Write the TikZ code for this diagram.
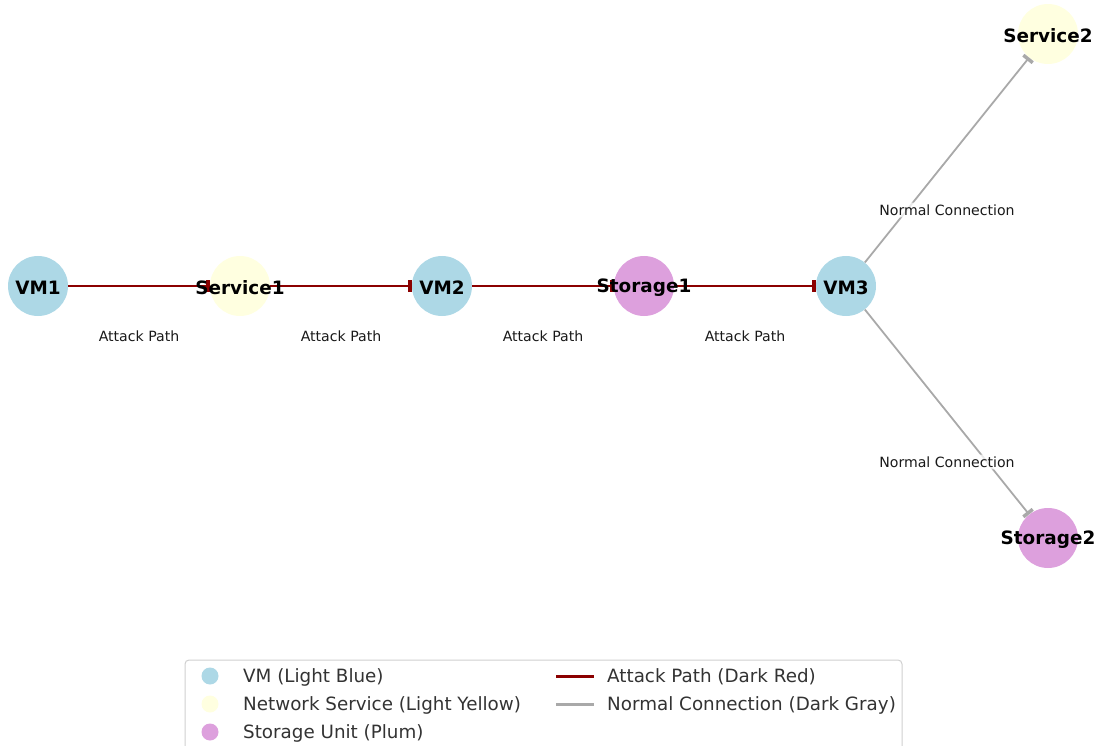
\documentclass[tikz,border=0pt]{standalone}
\usepackage{fontspec}
\setmainfont{DejaVu Sans}
\usetikzlibrary{arrows.meta,calc}
\definecolor{lblue}{HTML}{ADD8E6}
\definecolor{lyellow}{HTML}{FFFFE0}
\definecolor{lplum}{HTML}{DDA0DD}
\definecolor{dred}{HTML}{8B0000}
\definecolor{dgray}{HTML}{A9A9A9}
\definecolor{legborder}{HTML}{D0D0D0}
\tikzset{
  gnode/.style={circle,inner sep=0pt,minimum size=60pt,draw=none},
  vmnode/.style={gnode,fill=lblue},
  svnode/.style={gnode,fill=lyellow},
  stnode/.style={gnode,fill=lplum},
  nlabel/.style={font=\fontsize{18.4}{21}\bfseries\selectfont,text=black,yshift=-1.5pt},
  attack/.style={draw=dred,line width=1.8pt,-{Bar[width=12pt,line width=3.5pt]}},
  normal/.style={draw=dgray,line width=1.8pt,-{Bar[width=12pt,line width=3.5pt]}},
  elabel/.style={font=\fontsize{14.1}{16}\selectfont,text=black!90,fill=white,fill opacity=0.75,text opacity=1,inner sep=2pt,rounded corners=3pt},
  legtext/.style={font=\fontsize{18.3}{21}\selectfont,text=black!80,anchor=west,inner sep=0pt},
  legmark/.style={circle,inner sep=0pt,minimum size=17pt,draw=none},
}
\begin{document}
\begin{tikzpicture}[x=1pt,y=-1pt]
\useasboundingbox (0,0) rectangle (1098,746);
% nodes
\node[vmnode] (vm1) at (38,286) {};
\node[svnode] (s1) at (240,286) {};
\node[vmnode] (vm2) at (442,286) {};
\node[stnode] (st1) at (644,286) {};
\node[vmnode] (vm3) at (846,286) {};
\node[svnode] (s2) at (1048,34) {};
\node[stnode] (st2) at (1048,538) {};
% edges
\draw[attack] (vm1) -- (s1);
\draw[attack] (s1) -- (vm2);
\draw[attack] (vm2) -- (st1);
\draw[attack] (st1) -- (vm3);
\draw[normal] (vm3) -- (s2);
\draw[normal] (vm3) -- (st2);
% node labels
\node[nlabel] (l1) at (vm1) {VM1};
\node[nlabel] (l2) at (s1) {Service1};
\node[nlabel] (l3) at (vm2) {VM2};
\node[nlabel] (l4) at (st1) {Storage1};
\node[nlabel] (l5) at (vm3) {VM3};
\node[nlabel] (l6) at (s2) {Service2};
\node[nlabel] (l7) at (st2) {Storage2};
% edge labels
\node[elabel] (e1) at ($(vm1)!0.5!(s1)+(0,50)$) {Attack Path};
\node[elabel] (e2) at ($(s1)!0.5!(vm2)+(0,50)$) {Attack Path};
\node[elabel] (e3) at ($(vm2)!0.5!(st1)+(0,50)$) {Attack Path};
\node[elabel] (e4) at ($(st1)!0.5!(vm3)+(0,50)$) {Attack Path};
\node[elabel] (e5) at ($(vm3)!0.5!(s2)+(0,50)$) {Normal Connection};
\node[elabel] (e6) at ($(vm3)!0.5!(st2)+(0,50)$) {Normal Connection};
% legend
\draw[draw=legborder,line width=1pt,fill=white,fill opacity=0.8,rounded corners=4pt] (185,660) rectangle (902,770);
\node[legmark,fill=lblue] (m1) at (210,676) {};
\node[legmark,fill=lyellow] (m2) at (210,704) {};
\node[legmark,fill=lplum] (m3) at (210,732) {};
\node[legtext] (t1) at (243,677) {VM (Light Blue)};
\node[legtext] (t2) at (243,705) {Network Service (Light Yellow)};
\node[legtext] (t3) at (243,733) {Storage Unit (Plum)};
\coordinate (a1) at (556,676);
\coordinate (a2) at (594,676);
\coordinate (b1) at (556,704);
\coordinate (b2) at (594,704);
\draw[dred,line width=3pt] (a1) -- (a2);
\draw[dgray,line width=3pt] (b1) -- (b2);
\node[legtext] (t4) at (607,677) {Attack Path (Dark Red)};
\node[legtext] (t5) at (607,705) {Normal Connection (Dark Gray)};
\end{tikzpicture}
\end{document}
